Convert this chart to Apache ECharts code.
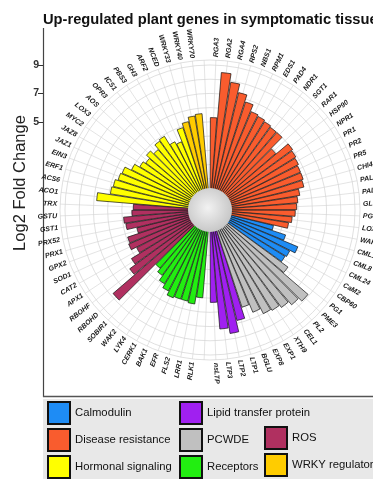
<!DOCTYPE html>
<html><head><meta charset="utf-8">
<script src="https://cdn.jsdelivr.net/npm/echarts@6/dist/echarts.min.js"></script>
<style>html,body{margin:0;padding:0;background:#fff}#c{width:373px;height:479px}</style>
</head><body><div id="c"></div>
<script>
// ---- data (Log2 fold change, clockwise from 12 o'clock) ----
const diseaseResistance = [5.3, 8.5, 7.9, 7.3, 6.8, 6.3, 6.2, 6.1, 6.0, 6.0, 4.9, 6.0, 5.9, 5.8, 5.7, 5.7, 5.6, 5.2, 5.0, 4.9, 4.8, 4.6, 4.4];
const diseaseGenes = ['RGA3','RGA2','RGA4','RPS2','NBS1','RPM1','EDS1','PAD4','NDR1','SGT1','RAR1','HSP90','NPR1','PR1','PR2','PR5','CHI4','PAL1','PAL2','GLU3','PGIP','LOX2','WAK1'];
const calmodulin = [3.4, 4.4, 5.5, 5.1, 5.0];
const calmodulinGenes = ['CML1','CML8','CML24','CaM2','CBP60'];
const pcwde = [5.6, 7.9, 7.6, 7.3, 7.1, 7.0, 6.6, 6.0];
const pcwdeGenes = ['PG1','PME3','PL2','CEL1','XTH9','EXP1','EXP8','BGLU'];
const lipidTransfer = [6.8, 7.6, 7.2, 5.3];
const lipidGenes = ['LTP1','LTP2','LTP3','nsLTP'];
const receptors = [5.0, 5.5, 5.4, 5.4, 5.5, 5.2, 4.9, 4.5, 4.2];
const receptorGenes = ['RLK1','LRR1','FLS2','EFR','BAK1','CERK1','LYK4','WAK2','SOBIR1'];
const ros = [7.8, 5.8, 5.3, 4.6, 5.0, 4.9, 4.1, 4.8, 4.9, 4.3, 4.2];
const rosGenes = ['RBOHD','RBOHF','APX1','CAT2','SOD1','GPX2','PRX1','PRX52','GST1','GSTU','TRX'];
const hormonal = [6.8, 5.9, 5.8, 5.6, 5.5, 5.0, 4.6, 4.4, 4.7, 4.4, 4.8, 4.9, 4.2, 4.0, 4.9];
const hormonalGenes = ['ACO1','ACS6','ERF1','EIN3','JAZ1','JAZ8','MYC2','LOX3','AOS','OPR3','ICS1','PBS3','GH3','ARF2','NCED'];
const wrky = [5.2, 5.5, 5.6];
const wrkyGenes = ['WRKY33','WRKY40','WRKY70'];
const yTicks = ['5', '7', '9'];

const groupNames = ['Calmodulin','Disease resistance','Hormonal signaling','Lipid transfer protein','PCWDE','Receptors','ROS','WRKY regulator'];
const groupColors = {
  'Calmodulin':'#1E8CF5','Disease resistance':'#F95C2E','Hormonal signaling':'#FFFF00',
  'Lipid transfer protein':'#A020F0','PCWDE':'#C0C0C0','Receptors':'#22EE11','ROS':'#B03060','WRKY regulator':'#FFCC00'
};
// clockwise order of groups round the circle (null = empty slot)
const layout = [
  ['Disease resistance', diseaseResistance, diseaseGenes],
  ['Calmodulin', calmodulin, calmodulinGenes],
  ['PCWDE', pcwde, pcwdeGenes],
  ['Lipid transfer protein', lipidTransfer, lipidGenes],
  null,
  ['Receptors', receptors, receptorGenes],
  ['ROS', ros, rosGenes],
  ['Hormonal signaling', hormonal, hormonalGenes],
  ['WRKY regulator', wrky, wrkyGenes],
  null
];

const labels = [];
const slotGroup = [];
const slotValue = [];
layout.forEach(g => {
  if (!g) { labels.push(''); slotGroup.push(null); slotValue.push(null); return; }
  g[1].forEach((v, k) => { labels.push(g[2][k]); slotGroup.push(g[0]); slotValue.push(v); });
});
const RMAX = 9.35;

const barSeries = groupNames.map(name => ({
  type: 'bar', name, coordinateSystem: 'polar', stack: 'all', z: 2,
  barCategoryGap: '10%',
  itemStyle: { color: groupColors[name], borderColor: '#111', borderWidth: 0.7 },
  data: slotValue.map((v, i) => slotGroup[i] === name ? v : '-')
}));

const chart = echarts.init(document.getElementById('c'), null, { renderer: 'canvas' });
chart.setOption({
  animation: false,
  textStyle: { fontFamily: 'Liberation Sans' },
  title: {
    text: 'Up-regulated plant genes in symptomatic tissue', left: 43, top: 12, padding: 0,
    textStyle: { fontSize: 14.7, fontWeight: 'bold', color: '#111', fontFamily: 'Liberation Sans' }
  },
  polar: { center: [210, 210], radius: [17, 150] },
  angleAxis: {
    type: 'category', data: labels, startAngle: 90, clockwise: true, boundaryGap: true,
    axisLine: { show: false }, axisTick: { show: false }, axisLabel: { show: false },
    splitLine: { show: false }
  },
  radiusAxis: {
    type: 'value', min: 0, max: RMAX, interval: 1,
    axisLine: { show: false }, axisTick: { show: false }, axisLabel: { show: false },
    splitLine: { show: true, lineStyle: { color: '#d2d2d2', width: 0.7 } }
  },
  grid: { left: 43, top: 65, height: 57, width: 1 },
  xAxis: { type: 'value', show: false },
  yAxis: {
    type: 'category', data: yTicks, boundaryGap: false,
    axisLine: { show: false },
    axisTick: { show: true, length: 5, lineStyle: { color: '#333' } },
    axisLabel: { fontSize: 10.5, fontWeight: 'bold', color: '#333', margin: 4 }
  },
  legend: [
    { data: ['Calmodulin','Disease resistance','Hormonal signaling'], left: 47, top: 401 },
    { data: ['Lipid transfer protein','PCWDE','Receptors'], left: 179, top: 401 },
    { data: ['ROS','WRKY regulator'], left: 264, top: 426 }
  ].map(l => Object.assign(l, {
    orient: 'vertical', itemWidth: 22, itemHeight: 22, itemGap: 3, icon: 'rect', selectedMode: false, padding: 0,
    textStyle: { fontSize: 11.3, color: '#111', fontFamily: 'Liberation Sans' }
  })),
  graphic: [
    { type: 'rect', z: -10, shape: { x: 43, y: 399, width: 330, height: 80 }, style: { fill: '#e8e8e8' } },
    { type: 'line', shape: { x1: 43.5, y1: 28, x2: 43.5, y2: 397 }, style: { stroke: '#444', lineWidth: 1.2 } },
    { type: 'line', shape: { x1: 43, y1: 396.5, x2: 373, y2: 396.5 }, style: { stroke: '#555', lineWidth: 1.5 } },
    { type: 'text', x: 20, y: 183, rotation: Math.PI / 2,
      style: { text: 'Log2 Fold Change', align: 'center', verticalAlign: 'middle', fontSize: 16.5, fill: '#222', fontFamily: 'Liberation Sans' } },
    { type: 'circle', z: 100, shape: { cx: 210, cy: 210, r: 22 },
      style: { fill: new echarts.graphic.RadialGradient(0.45, 0.45, 0.6, [{ offset: 0, color: '#f2f2f2' }, { offset: 1, color: '#c4c4c4' }]) } }
  ],
  series: [
    {
      type: 'custom', coordinateSystem: 'polar', z: 1, silent: true,
      data: labels.map((l, i) => [RMAX, i]),
      renderItem: (params, api) => {
        const i = params.dataIndex;
        const p1 = api.coord([0, i]); const p2 = api.coord([RMAX, i]);
        return { type: 'line', shape: { x1: p1[0], y1: p1[1], x2: p2[0], y2: p2[1] }, style: { stroke: '#d2d2d2', lineWidth: 0.6 } };
      }
    },
    ...barSeries,
    {
      type: 'custom', coordinateSystem: 'polar', z: 3, silent: true,
      data: labels.map((l, i) => [RMAX, i]),
      renderItem: (params, api) => {
        const i = params.dataIndex;
        const txt = labels[i];
        if (!txt) return null;
        const p1 = api.coord([0, i]); const p2 = api.coord([RMAX, i]);
        let dx = p2[0] - p1[0], dy = p2[1] - p1[1];
        const len = Math.hypot(dx, dy); dx /= len; dy /= len;
        let rot = Math.atan2(-dy, dx); let align = 'left';
        if (dx < -1e-6) { rot += Math.PI; align = 'right'; }
        return { type: 'text', x: p2[0] + dx * 3, y: p2[1] + dy * 3, rotation: rot,
          style: { text: txt, align, verticalAlign: 'middle', fontSize: 7, fontStyle: 'italic', fontWeight: 'bold', fill: '#1a1a1a', fontFamily: 'Liberation Sans' } };
      }
    }
  ]
});
</script></body></html>
